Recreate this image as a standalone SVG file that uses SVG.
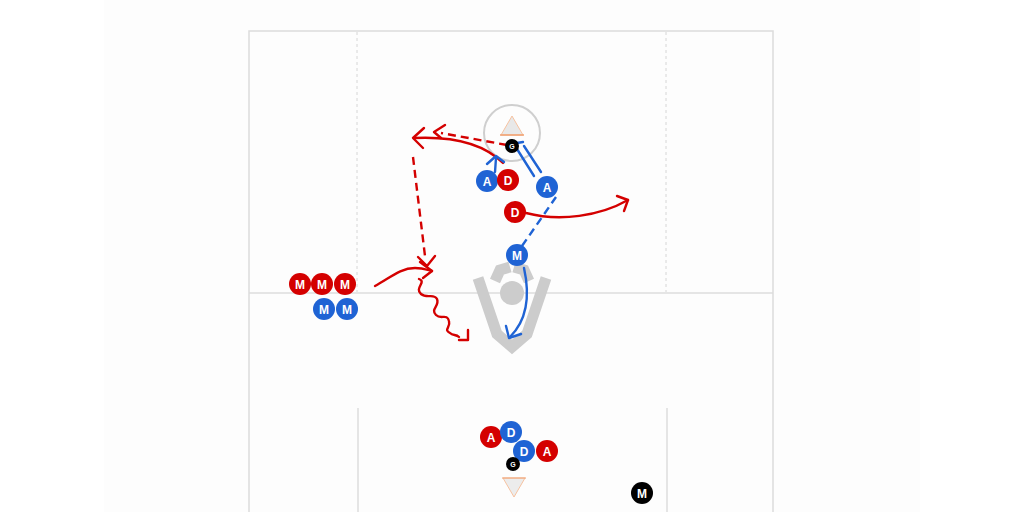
<svg xmlns="http://www.w3.org/2000/svg" width="1024" height="512" viewBox="0 0 1024 512">
<style>
.fld{fill:none;stroke:#dcdcdc;stroke-width:1.5}
.dl{fill:none;stroke:#d6d6d6;stroke-width:1;stroke-dasharray:3 3}
.r{fill:none;stroke:#d40000;stroke-width:2.4;stroke-linecap:round;stroke-linejoin:round}
.rd{fill:none;stroke:#d40000;stroke-width:2.4;stroke-dasharray:8 5}
.b{fill:none;stroke:#1f63d4;stroke-width:2.4;stroke-linecap:round;stroke-linejoin:round}
.bd{fill:none;stroke:#1f63d4;stroke-width:2.4;stroke-dasharray:8 5}
.pr{fill:#d40000}
.pb{fill:#1f63d4}
.pk{fill:#000}
.t{font-family:"Liberation Sans",Arial,sans-serif;font-weight:bold;font-size:12px;fill:#fff;text-anchor:middle}
.tg{font-family:"Liberation Sans",Arial,sans-serif;font-weight:bold;font-size:7px;fill:#fff;text-anchor:middle}
.logo{fill:none;stroke:#cccccc;stroke-width:11;stroke-linejoin:miter}
</style>
<rect width="1024" height="512" fill="#ffffff"/>
<rect x="104" y="0" width="816" height="512" fill="#fdfdfd"/>
<g id="field">
<path class="fld" d="M249,512 V31 H773 V512"/>
<line class="fld" x1="249" y1="293" x2="773" y2="293"/>
<line class="dl" x1="357" y1="32" x2="357" y2="292"/>
<line class="dl" x1="666" y1="32" x2="666" y2="292"/>
<line class="fld" x1="358" y1="408" x2="358" y2="512"/>
<line class="fld" x1="667" y1="408" x2="667" y2="512"/>
</g>
<g id="logo">
<polyline class="logo" points="478,278 497,334 512,347 527,334 546,278"/>
<polyline class="logo" points="495,281 500,270 510,267" stroke-width="8"/>
<polyline class="logo" points="529,281 524,270 514,267" stroke-width="8"/>
<circle cx="512" cy="293" r="12" fill="#cccccc"/>
</g>
<g id="goal-top">
<circle cx="512" cy="133" r="28" fill="none" stroke="#cfcfcf" stroke-width="2"/>
<polygon points="512,116 501,135 523,135" fill="#e8e8e8" stroke="#f6c2a0" stroke-width="1"/>
<line x1="500" y1="135" x2="524" y2="135" stroke="#f0a070" stroke-width="1.5"/>
</g>
<g id="goal-bottom">
<polygon points="503,478 525,478 514,497" fill="#ececec" stroke="#f6c2a0" stroke-width="1"/>
<line x1="502" y1="478" x2="526" y2="478" stroke="#f0a070" stroke-width="1"/>
</g>
<g id="connectors">
<path class="r" d="M503,163 C485,145 455,136 414,138"/>
<polyline class="r" points="424,128 413,138 423,148"/>
<path class="rd" d="M507,145 L441,133"/>
<polyline class="r" points="445,125 434,132 441,138"/>
<path class="rd" d="M413,157 L425,256"/>
<polyline class="r" points="418,257 427,266 435,256"/>
<path class="r" d="M375,286 C390,278 400,268 415,268 C422,268 428,270 432,271"/>
<polyline class="r" points="420,262 432,271 423,278"/>
<path class="r" d="M419,279 C427,282 414,288 421,294 C427,299 434,293 437,299 C440,306 430,309 436,315 C441,320 447,313 449,321 C451,328 443,329 450,333 C453,336 456,334 459,337"/>
<polyline class="r" points="459,340 468,340 468,330"/>
<path class="r" d="M526,213 C560,222 600,216 628,200"/>
<polyline class="r" points="617,196 628,200 624,211"/>
<line class="b" x1="495" y1="172" x2="496" y2="158"/>
<polyline class="b" points="487,164 496,156 504,162"/>
<line class="b" x1="541" y1="172" x2="524" y2="146"/>
<line class="b" x1="534" y1="176" x2="517" y2="149"/>
<line class="b" x1="517" y1="143" x2="523" y2="142"/>
<path class="bd" d="M522,246 L556,197"/>
<path class="b" d="M524,268 C530,295 527,320 510,337"/>
<polyline class="b" points="506,326 509,338 521,334"/>
</g>
<g id="n-g-top"><circle class="pk" cx="512" cy="146" r="7"/><text class="tg" x="512" y="148.5">G</text></g>
<g id="n-a1"><circle class="pb" cx="487" cy="181" r="11"/><text class="t" x="487" y="185.5">A</text></g>
<g id="n-d1"><circle class="pr" cx="508" cy="180" r="11"/><text class="t" x="508" y="184.5">D</text></g>
<g id="n-a2"><circle class="pb" cx="547" cy="187" r="11"/><text class="t" x="547" y="191.5">A</text></g>
<g id="n-d2"><circle class="pr" cx="515" cy="212" r="11"/><text class="t" x="515" y="216.5">D</text></g>
<g id="n-m1"><circle class="pb" cx="517" cy="255" r="11"/><text class="t" x="517" y="259.5">M</text></g>
<g id="n-rm1"><circle class="pr" cx="300" cy="284" r="11"/><text class="t" x="300" y="288.5">M</text></g>
<g id="n-rm2"><circle class="pr" cx="322" cy="284" r="11"/><text class="t" x="322" y="288.5">M</text></g>
<g id="n-rm3"><circle class="pr" cx="345" cy="284" r="11"/><text class="t" x="345" y="288.5">M</text></g>
<g id="n-bm1"><circle class="pb" cx="324" cy="309" r="11"/><text class="t" x="324" y="313.5">M</text></g>
<g id="n-bm2"><circle class="pb" cx="347" cy="309" r="11"/><text class="t" x="347" y="313.5">M</text></g>
<g id="n-a3"><circle class="pr" cx="491" cy="437" r="11"/><text class="t" x="491" y="441.5">A</text></g>
<g id="n-d3"><circle class="pb" cx="511" cy="432" r="11"/><text class="t" x="511" y="436.5">D</text></g>
<g id="n-d4"><circle class="pb" cx="524" cy="451" r="11"/><text class="t" x="524" y="455.5">D</text></g>
<g id="n-a4"><circle class="pr" cx="547" cy="451" r="11"/><text class="t" x="547" y="455.5">A</text></g>
<g id="n-g-bot"><circle class="pk" cx="513" cy="464" r="7"/><text class="tg" x="513" y="466.5">G</text></g>
<g id="n-m-black"><circle class="pk" cx="642" cy="493" r="11"/><text class="t" x="642" y="497.5">M</text></g>
</svg>
